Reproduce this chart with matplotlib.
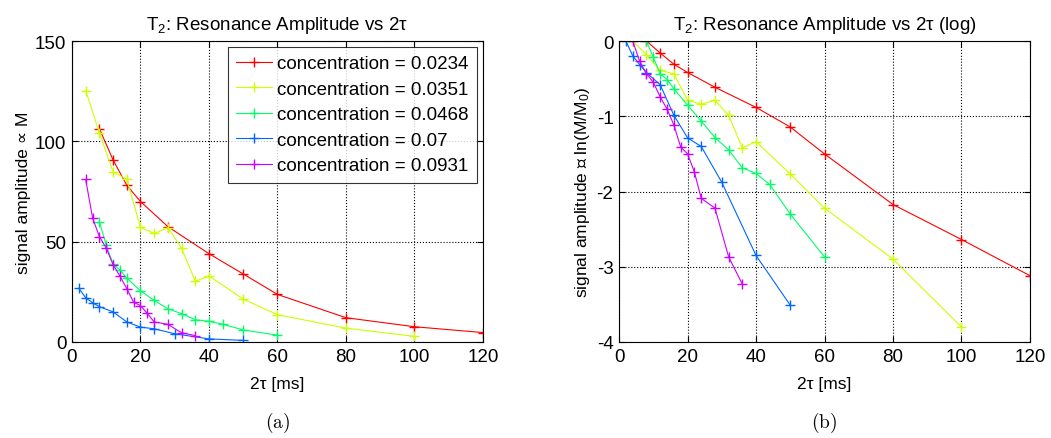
import numpy as np
import matplotlib
matplotlib.use('Agg')
import matplotlib.pyplot as plt

plt.rcParams['font.family'] = ['Liberation Sans', 'DejaVu Sans']
plt.rcParams['mathtext.fontset'] = 'custom'
plt.rcParams['mathtext.rm'] = 'Liberation Sans'
plt.rcParams['mathtext.it'] = 'Liberation Sans'
plt.rcParams['axes.unicode_minus'] = False

# --- data: 2tau [ms] and signal amplitude M for each concentration ---
labels = ['concentration = 0.0234', 'concentration = 0.0351',
          'concentration = 0.0468', 'concentration = 0.07',
          'concentration = 0.0931']

t_0234 = [8, 12, 16, 20, 28, 40, 50, 60, 80, 100, 120]
m_0234 = [106.3, 90.7, 78.1, 70.0, 57.5, 44.0, 33.9, 23.7, 12.1, 7.6, 4.7]

t_0351 = [4, 8, 12, 16, 20, 24, 28, 32, 36, 40, 50, 60, 80, 100]
m_0351 = [125.3, 104.3, 84.8, 81.1, 57.1, 54.1, 57.0, 46.7, 30.3, 32.9,
          21.4, 13.6, 6.9, 2.8]

t_0468 = [8, 10, 12, 14, 16, 20, 24, 28, 32, 36, 40, 44, 50, 60]
m_0468 = [59.9, 48.3, 38.7, 35.9, 31.8, 25.5, 20.7, 16.6, 14.1, 11.1,
          10.3, 8.9, 6.0, 3.4]

t_07 = [2, 4, 6, 8, 12, 16, 20, 24, 30, 40, 50]
m_07 = [26.8, 22.0, 19.6, 17.6, 15.0, 10.0, 7.4, 6.6, 4.1, 1.55, 0.8]

t_0931 = [4, 6, 8, 10, 12, 14, 16, 18, 20, 22, 24, 28, 32, 36]
m_0931 = [81.0, 61.9, 52.5, 46.8, 38.6, 32.8, 26.6, 19.8, 18.1, 14.2,
          10.0, 8.8, 4.6, 3.2]

series = [(t_0234, m_0234), (t_0351, m_0351), (t_0468, m_0468),
          (t_07, m_07), (t_0931, m_0931)]
# MATLAB hsv(5)
colors = ['#ff0000', '#ccff00', '#00ff66', '#0066ff', '#cc00ff']

fig = plt.figure(figsize=(10.51, 4.39), dpi=100)
ax1 = fig.add_axes([0.0685, 0.2187, 0.391, 0.6856])
ax2 = fig.add_axes([0.589, 0.2187, 0.391, 0.6856])

for (t, m), col, lab in zip(series, colors, labels):
    m = np.array(m)
    ax1.plot(t, m, color=col, marker='+', markersize=6.5, linewidth=0.8,
             markeredgewidth=1.0, label=lab)
    # log panel: ln(M/M0), M0 = first sample of the series
    ax2.plot(t, np.log(m / m[0]), color=col, marker='+', markersize=6.5,
             linewidth=0.8, markeredgewidth=1.0)

for ax in (ax1, ax2):
    ax.set_xlim(0, 120)
    ax.set_xticks(range(0, 121, 20))
    ax.grid(True, color='black', linestyle=':', linewidth=0.8)
    ax.tick_params(direction='in', length=4, labelsize=13.5, pad=4,
                   top=True, right=True)
    ax.set_xlabel('2τ [ms]', fontsize=12.5, labelpad=8)
    for s in ax.spines.values():
        s.set_linewidth(0.8)

ax1.set_ylim(0, 150)
ax1.set_yticks([0, 50, 100, 150])
ax1.set_ylabel('signal amplitude ∝ M', fontsize=12.5, labelpad=3)
ax1.set_title('T$_2$: Resonance Amplitude vs 2τ', fontsize=13.5, pad=9)
leg = ax1.legend(loc='upper right', fontsize=13.5, frameon=True, fancybox=False,
                 edgecolor='black', handlelength=1.9, handletextpad=0.3,
                 borderaxespad=0.3, labelspacing=0.45, borderpad=0.45)
leg.get_frame().set_linewidth(0.8)

ax2.set_ylim(-4, 0)
ax2.set_yticks([-4, -3, -2, -1, 0])
ax2.set_ylabel('signal amplitude ∝ ln(M/M$_0$)', fontsize=12.5, labelpad=3)
ax2.set_title('T$_2$: Resonance Amplitude vs 2τ (log)', fontsize=13.5, pad=9)

fig.text(0.2645, 0.026, r'$\mathrm{(a)}$', ha='center', va='baseline',
         fontsize=14, math_fontfamily='cm')
fig.text(0.7845, 0.026, r'$\mathrm{(b)}$', ha='center', va='baseline',
         fontsize=14, math_fontfamily='cm')

fig.savefig('out.png', dpi=100)
